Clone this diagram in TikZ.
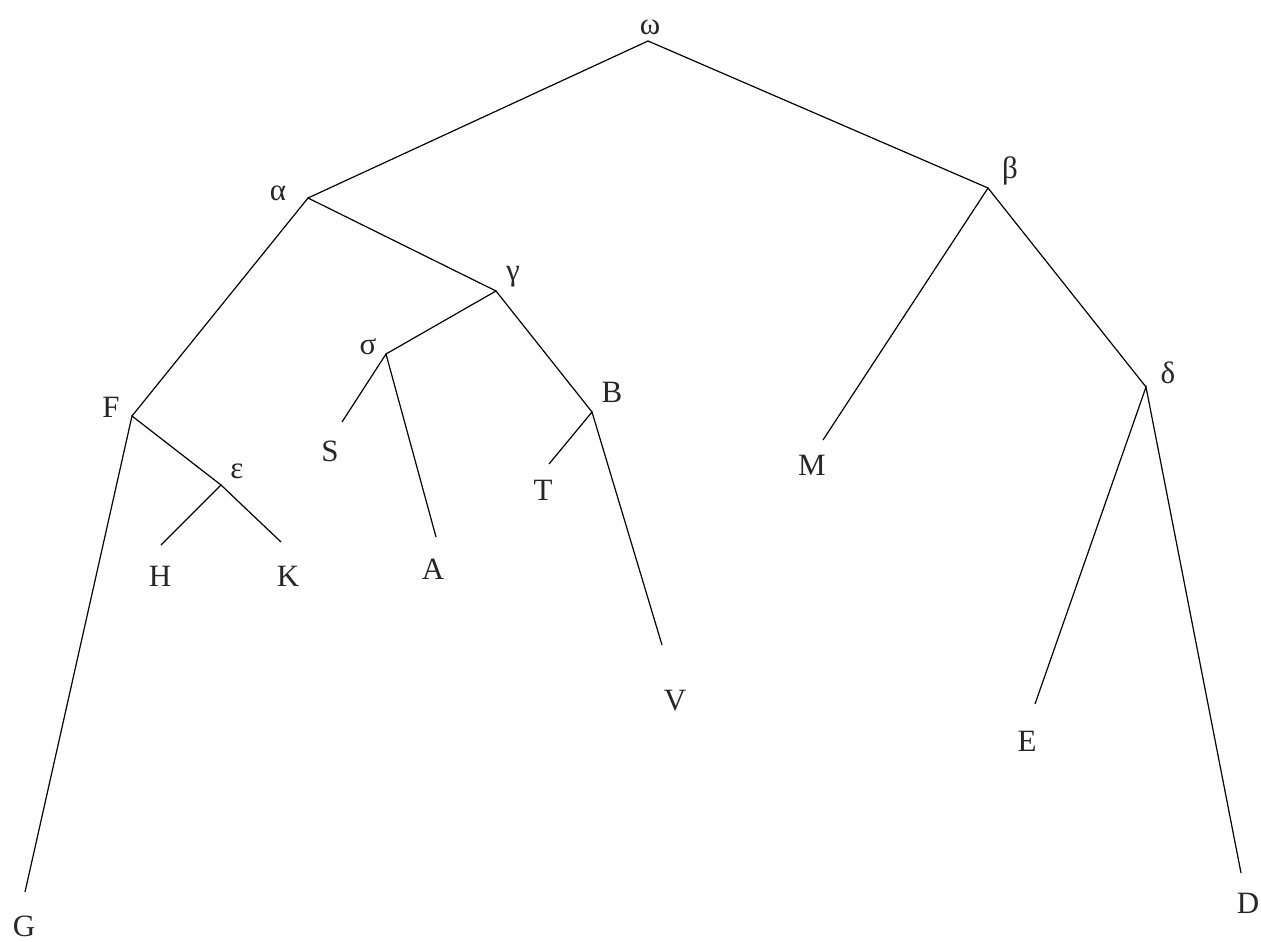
\documentclass[tikz,border=0pt]{standalone}
\usepackage{fontspec}
\setmainfont{Liberation Serif}
\begin{document}
\begin{tikzpicture}[x=0.5pt,y=-0.5pt,
  lbl/.style={inner sep=0pt,text=black!85,font=\fontsize{15.5}{18}\selectfont},
  edge/.style={line width=0.6pt}]
\useasboundingbox (0,0) rectangle (1261,941);
% vertices
\coordinate (w) at (648,41);
\coordinate (a) at (308,198);
\coordinate (b) at (988,188);
\coordinate (g) at (496,291);
\coordinate (s) at (386,354);
\coordinate (Bv) at (592,412);
\coordinate (Fv) at (132,416);
\coordinate (e) at (221,485);
\coordinate (d) at (1146,387);
% leaf ends
\coordinate (Se) at (342,422);
\coordinate (Ae) at (436,537);
\coordinate (Te) at (549,464);
\coordinate (Ve) at (662,645);
\coordinate (He) at (161,545);
\coordinate (Ke) at (281,542);
\coordinate (Ge) at (25,892);
\coordinate (Me) at (823,440);
\coordinate (Ee) at (1035,704);
\coordinate (De) at (1241,873);
% labels
\node[lbl] (lw) at (650,27) {ω};
\node[lbl] (la) at (278,193) {α};
\node[lbl] (lb) at (1010,171) {β};
\node[lbl] (lg) at (513,277) {γ};
\node[lbl] (ls) at (368,347) {σ};
\node[lbl] (lB) at (612,392) {B};
\node[lbl] (lF) at (111,407) {F};
\node[lbl] (le) at (237,471) {ε};
\node[lbl] (ld) at (1168,373) {δ};
\node[lbl] (lS) at (330,451) {S};
\node[lbl] (lA) at (433,569) {A};
\node[lbl] (lT) at (543,490) {T};
\node[lbl] (lV) at (675,701) {V};
\node[lbl] (lH) at (160,576) {H};
\node[lbl] (lK) at (288,576) {K};
\node[lbl] (lG) at (24,926) {G};
\node[lbl] (lM) at (812,465) {M};
\node[lbl] (lE) at (1027,741) {E};
\node[lbl] (lD) at (1248,903) {D};
% edges
\draw[edge] (a) -- (w) -- (b);
\draw[edge] (Fv) -- (a) -- (g);
\draw[edge] (s) -- (g) -- (Bv);
\draw[edge] (Se) -- (s) -- (Ae);
\draw[edge] (Te) -- (Bv) -- (Ve);
\draw[edge] (Ge) -- (Fv) -- (e);
\draw[edge] (He) -- (e) -- (Ke);
\draw[edge] (Me) -- (b) -- (d);
\draw[edge] (Ee) -- (d) -- (De);
\end{tikzpicture}
\end{document}
